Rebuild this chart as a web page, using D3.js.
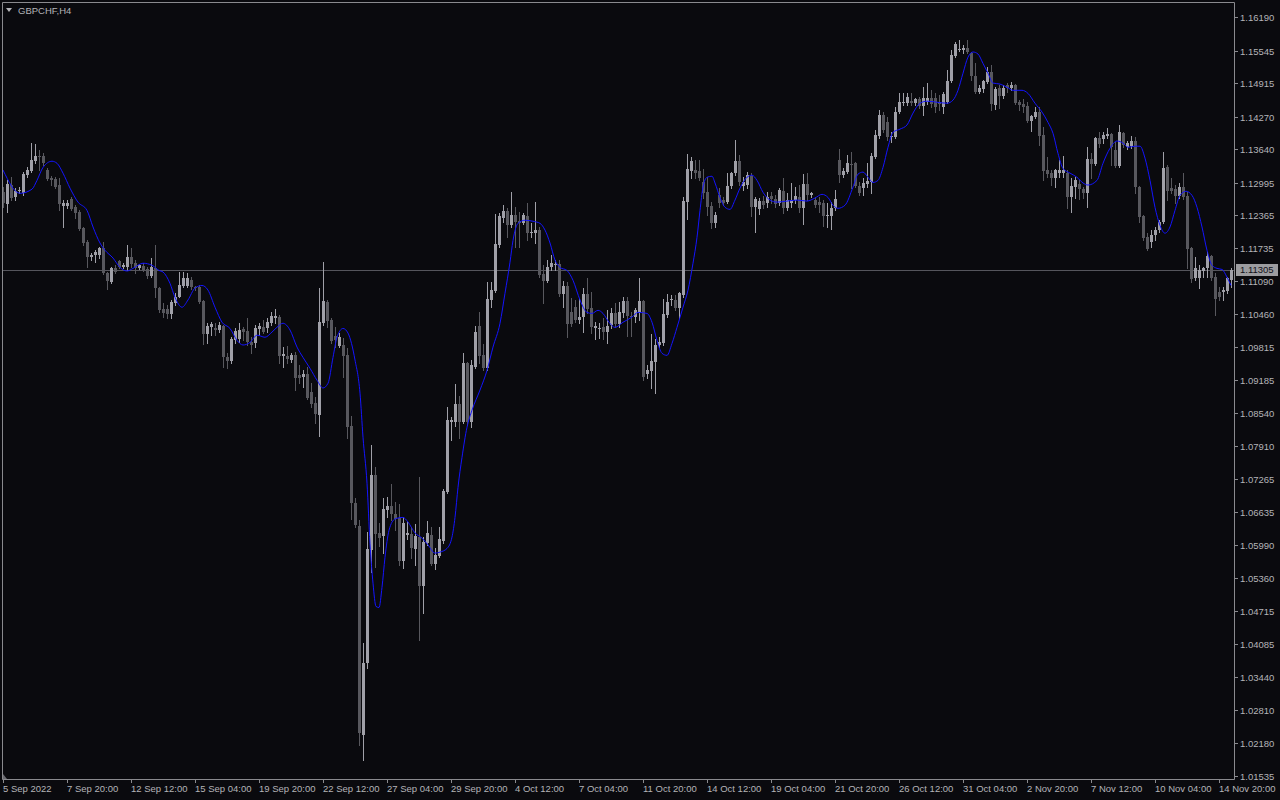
<!DOCTYPE html>
<html><head><meta charset="utf-8">
<script src="https://cdn.jsdelivr.net/npm/d3@7"></script>
<style>html,body{margin:0;padding:0;background:#0a0a0e;overflow:hidden}</style>
</head><body><svg id="c" width="1280" height="800"></svg>
<script>
const symbolTitle = "GBPCHF,H4";
const openP = [
1.1281,1.1258,1.1295,1.1271,1.1283,1.1279,1.1314,1.1322,1.1341,1.1351,
1.1351,1.1324,1.1308,1.1306,1.1295,1.1254,1.1254,1.1268,1.1252,1.1243,
1.1212,1.1185,1.1156,1.1159,1.1159,1.1173,1.1125,1.1107,1.1134,1.1148,
1.1136,1.1136,1.1156,1.1144,1.1134,1.1138,1.1132,1.1119,1.1134,1.1096,
1.1055,1.1055,1.1045,1.1067,1.1078,1.1100,1.1100,1.1111,1.1098,1.1098,
1.1071,1.1007,1.1020,1.1018,1.1015,1.1022,1.0962,1.0955,1.0995,1.0997,
1.1017,1.1013,1.0991,1.0989,1.1017,1.1020,1.1018,1.1028,1.1038,1.1040,
1.0964,1.0964,1.0957,1.0966,1.0928,1.0924,1.0930,1.0895,1.0874,1.0850,
1.1028,1.1069,1.1034,1.1003,1.0984,1.0986,1.0966,1.0829,1.0680,1.0636,
1.0232,1.0371,1.0590,1.0734,1.0623,1.0617,1.0667,1.0675,1.0659,1.0651,
1.0568,1.0619,1.0621,1.0592,1.0615,1.0520,1.0603,1.0619,1.0563,1.0578,
1.0607,1.0702,1.0837,1.0837,1.0872,1.0837,1.0951,1.0837,1.0943,1.1022,
1.0966,1.0941,1.1073,1.1090,1.1179,1.1231,1.1244,1.1217,1.1237,1.1225,
1.1221,1.1235,1.1204,1.1202,1.1208,1.1123,1.1109,1.1136,1.1142,1.1142,
1.1084,1.1100,1.1049,1.1059,1.1034,1.1040,1.1084,1.1057,1.1018,1.1018,
1.1020,1.1011,1.1024,1.1047,1.1026,1.1047,1.1071,1.1042,1.1040,1.1047,
1.1071,1.0930,1.0935,1.0953,1.0986,1.0989,1.1044,1.1073,1.1073,1.1057,
1.1082,1.1262,1.1322,1.1324,1.1322,1.1300,1.1281,1.1254,1.1221,1.1275,
1.1266,1.1262,1.1293,1.1318,1.1341,1.1293,1.1295,1.1312,1.1252,1.1248,
1.1264,1.1260,1.1273,1.1268,1.1260,1.1283,1.1250,1.1260,1.1266,1.1271,
1.1250,1.1297,1.1275,1.1266,1.1262,1.1260,1.1235,1.1235,1.1250,1.1343,
1.1314,1.1320,1.1335,1.1337,1.1293,1.1289,1.1297,1.1300,1.1349,1.1389,
1.1430,1.1416,1.1387,1.1387,1.1436,1.1453,1.1453,1.1457,1.1453,1.1461,
1.1447,1.1455,1.1463,1.1463,1.1455,1.1445,1.1455,1.1496,1.1544,1.1555,
1.1555,1.1559,1.1550,1.1505,1.1474,1.1480,1.1494,1.1513,1.1449,1.1482,
1.1467,1.1488,1.1482,1.1488,1.1455,1.1451,1.1447,1.1418,1.1426,1.1436,
1.1391,1.1324,1.1318,1.1308,1.1318,1.1318,1.1318,1.1271,1.1291,1.1297,
1.1287,1.1279,1.1345,1.1335,1.1385,1.1384,1.1389,1.1393,1.1362,1.1331,
1.1395,1.1368,1.1370,1.1380,1.1291,1.1235,1.1194,1.1185,1.1198,1.1208,
1.1223,1.1329,1.1289,1.1287,1.1273,1.1291,1.1273,1.1173,1.1115,1.1115,
1.1129,1.1134,1.1158,1.1117,1.1088,1.1088,1.1090,1.1111];
const highP = [
1.1291,1.1304,1.1310,1.1289,1.1291,1.1320,1.1329,1.1376,1.1374,1.1362,
1.1356,1.1327,1.1312,1.1310,1.1308,1.1266,1.1266,1.1271,1.1256,1.1246,
1.1214,1.1188,1.1163,1.1169,1.1175,1.1185,1.1127,1.1136,1.1140,1.1150,
1.1144,1.1179,1.1173,1.1150,1.1142,1.1144,1.1136,1.1154,1.1179,1.1098,
1.1067,1.1063,1.1073,1.1086,1.1127,1.1127,1.1125,1.1117,1.1100,1.1101,
1.1073,1.1028,1.1030,1.1028,1.1030,1.1024,1.0970,1.1001,1.1018,1.1028,
1.1020,1.1038,1.1001,1.1024,1.1028,1.1034,1.1038,1.1049,1.1055,1.1044,
1.0982,1.0984,1.0970,1.0972,1.0947,1.0937,1.0943,1.0912,1.0885,1.1096,
1.1146,1.1073,1.1038,1.1020,1.1009,1.0999,1.0980,1.0848,1.0690,1.0648,
1.0410,1.0624,1.0792,1.0750,1.0642,1.0690,1.0692,1.0717,1.0682,1.0678,
1.0653,1.0644,1.0634,1.0640,1.0731,1.0615,1.0646,1.0634,1.0593,1.0634,
1.0707,1.0866,1.0846,1.0910,1.0887,1.0970,1.0953,1.0957,1.1022,1.1049,
1.0988,1.1107,1.1107,1.1239,1.1241,1.1256,1.1250,1.1281,1.1252,1.1243,
1.1241,1.1260,1.1221,1.1262,1.1214,1.1140,1.1150,1.1159,1.1150,1.1150,
1.1109,1.1107,1.1076,1.1073,1.1074,1.1096,1.1115,1.1088,1.1030,1.1028,
1.1038,1.1053,1.1057,1.1067,1.1069,1.1078,1.1078,1.1049,1.1057,1.1115,
1.1073,1.0947,1.1007,1.0997,1.1001,1.1074,1.1084,1.1082,1.1082,1.1088,
1.1271,1.1355,1.1349,1.1343,1.1343,1.1326,1.1310,1.1262,1.1243,1.1289,
1.1271,1.1318,1.1320,1.1382,1.1353,1.1310,1.1320,1.1318,1.1271,1.1270,
1.1273,1.1281,1.1281,1.1275,1.1289,1.1308,1.1279,1.1299,1.1291,1.1295,
1.1316,1.1318,1.1281,1.1271,1.1271,1.1266,1.1260,1.1262,1.1285,1.1364,
1.1327,1.1353,1.1358,1.1339,1.1300,1.1308,1.1337,1.1356,1.1401,1.1440,
1.1436,1.1426,1.1397,1.1445,1.1472,1.1472,1.1472,1.1472,1.1463,1.1465,
1.1484,1.1492,1.1478,1.1472,1.1468,1.1474,1.1517,1.1555,1.1571,1.1575,
1.1565,1.1575,1.1552,1.1530,1.1488,1.1497,1.1523,1.1526,1.1484,1.1488,
1.1488,1.1492,1.1494,1.1490,1.1459,1.1461,1.1455,1.1430,1.1445,1.1445,
1.1407,1.1349,1.1324,1.1326,1.1343,1.1351,1.1324,1.1308,1.1310,1.1304,
1.1291,1.1368,1.1356,1.1387,1.1397,1.1397,1.1405,1.1395,1.1378,1.1411,
1.1397,1.1380,1.1389,1.1387,1.1293,1.1237,1.1202,1.1208,1.1214,1.1227,
1.1358,1.1333,1.1308,1.1295,1.1299,1.1318,1.1281,1.1175,1.1156,1.1140,
1.1136,1.1165,1.1159,1.1125,1.1098,1.1098,1.1117,1.1134];
const lowP = [
1.1252,1.1243,1.1266,1.1266,1.1279,1.1275,1.1310,1.1320,1.1337,1.1324,
1.1333,1.1304,1.1295,1.1289,1.1246,1.1214,1.1250,1.1246,1.1231,1.1208,
1.1179,1.1136,1.1150,1.1146,1.1154,1.1123,1.1094,1.1105,1.1125,1.1134,
1.1134,1.1130,1.1136,1.1125,1.1132,1.1129,1.1115,1.1117,1.1078,1.1049,
1.1040,1.1038,1.1038,1.1063,1.1078,1.1098,1.1098,1.1094,1.1092,1.1067,
1.0988,1.0989,1.1005,1.1005,1.1011,1.0943,1.0941,1.0951,1.0989,1.0991,
1.0995,1.0986,1.0970,1.0982,1.1005,1.1009,1.1011,1.1024,1.1028,1.0951,
1.0943,1.0951,1.0953,1.0899,1.0912,1.0905,1.0881,1.0866,1.0835,1.0810,
1.1024,1.1020,1.0989,1.0982,1.0982,1.0924,1.0806,1.0650,1.0634,1.0213,
1.0184,1.0362,1.0547,1.0557,1.0598,1.0584,1.0653,1.0648,1.0628,1.0561,
1.0555,1.0611,1.0574,1.0561,1.0416,1.0468,1.0600,1.0561,1.0553,1.0576,
1.0603,1.0700,1.0802,1.0829,1.0806,1.0835,1.0831,1.0827,1.0941,1.0951,
1.0937,1.0937,1.1059,1.1088,1.1175,1.1223,1.1194,1.1214,1.1175,1.1175,
1.1219,1.1188,1.1194,1.1183,1.1117,1.1067,1.1107,1.1130,1.1130,1.1080,
1.1059,1.1001,1.1022,1.1030,1.1028,1.1011,1.1047,1.1009,1.0997,1.0999,
1.0997,1.0989,1.1018,1.1020,1.1020,1.1040,1.1003,1.1003,1.1030,1.1034,
1.0918,1.0922,1.0903,1.0893,1.0982,1.0986,1.1040,1.1063,1.1053,1.1038,
1.1078,1.1229,1.1308,1.1308,1.1304,1.1270,1.1237,1.1212,1.1214,1.1252,
1.1256,1.1260,1.1289,1.1314,1.1295,1.1285,1.1289,1.1235,1.1204,1.1239,
1.1250,1.1252,1.1260,1.1252,1.1256,1.1241,1.1246,1.1252,1.1260,1.1243,
1.1219,1.1266,1.1271,1.1252,1.1243,1.1215,1.1214,1.1210,1.1246,1.1300,
1.1310,1.1318,1.1289,1.1291,1.1275,1.1275,1.1291,1.1279,1.1347,1.1385,
1.1397,1.1382,1.1378,1.1385,1.1434,1.1449,1.1449,1.1449,1.1449,1.1443,
1.1430,1.1451,1.1445,1.1436,1.1440,1.1434,1.1453,1.1494,1.1542,1.1553,
1.1550,1.1550,1.1497,1.1472,1.1472,1.1474,1.1492,1.1440,1.1441,1.1443,
1.1463,1.1474,1.1478,1.1451,1.1440,1.1436,1.1416,1.1399,1.1424,1.1372,
1.1304,1.1310,1.1295,1.1291,1.1310,1.1310,1.1250,1.1243,1.1270,1.1268,
1.1270,1.1252,1.1308,1.1333,1.1368,1.1376,1.1385,1.1333,1.1329,1.1329,
1.1368,1.1364,1.1366,1.1279,1.1223,1.1188,1.1169,1.1175,1.1188,1.1204,
1.1221,1.1266,1.1279,1.1260,1.1270,1.1268,1.1134,1.1107,1.1111,1.1096,
1.1117,1.1117,1.1111,1.1044,1.1073,1.1073,1.1086,1.1098];
const closeP = [
1.1260,1.1297,1.1270,1.1283,1.1285,1.1316,1.1324,1.1343,1.1351,1.1350,
1.1337,1.1306,1.1304,1.1291,1.1258,1.1260,1.1260,1.1248,1.1241,1.1210,
1.1183,1.1156,1.1159,1.1165,1.1173,1.1125,1.1109,1.1134,1.1127,1.1136,
1.1140,1.1156,1.1142,1.1134,1.1140,1.1130,1.1119,1.1136,1.1096,1.1053,
1.1047,1.1045,1.1069,1.1078,1.1101,1.1115,1.1115,1.1098,1.1097,1.1069,
1.1007,1.1022,1.1026,1.1015,1.1024,1.0962,1.0955,1.0997,1.1013,1.1015,
1.1011,1.0991,1.0986,1.1018,1.1022,1.1011,1.1030,1.1042,1.1042,1.0964,
1.0968,1.0959,1.0966,1.0922,1.0922,1.0930,1.0883,1.0872,1.0852,1.1030,
1.1071,1.1032,1.0993,1.0995,1.1001,1.0964,1.0827,1.0680,1.0638,1.0236,
1.0371,1.0592,1.0734,1.0621,1.0613,1.0669,1.0675,1.0659,1.0650,1.0568,
1.0642,1.0623,1.0593,1.0617,1.0520,1.0605,1.0623,1.0563,1.0580,1.0611,
1.0704,1.0841,1.0841,1.0872,1.0837,1.0951,1.0837,1.0947,1.1011,1.0964,
1.0941,1.1074,1.1092,1.1181,1.1235,1.1244,1.1217,1.1237,1.1223,1.1221,
1.1237,1.1202,1.1205,1.1208,1.1121,1.1109,1.1136,1.1144,1.1143,1.1084,
1.1100,1.1026,1.1026,1.1034,1.1040,1.1084,1.1055,1.1020,1.1022,1.1019,
1.1011,1.1022,1.1047,1.1026,1.1049,1.1071,1.1042,1.1040,1.1053,1.1071,
1.0924,1.0937,1.0955,1.0986,1.0991,1.1045,1.1069,1.1074,1.1057,1.1086,
1.1264,1.1326,1.1341,1.1318,1.1308,1.1279,1.1252,1.1221,1.1237,1.1260,
1.1260,1.1293,1.1318,1.1341,1.1300,1.1300,1.1314,1.1252,1.1268,1.1264,
1.1256,1.1271,1.1268,1.1258,1.1285,1.1250,1.1266,1.1266,1.1273,1.1250,
1.1297,1.1275,1.1279,1.1256,1.1256,1.1235,1.1237,1.1250,1.1268,1.1314,
1.1322,1.1337,1.1333,1.1293,1.1279,1.1299,1.1302,1.1351,1.1391,1.1430,
1.1401,1.1387,1.1389,1.1436,1.1455,1.1455,1.1465,1.1453,1.1461,1.1447,
1.1463,1.1463,1.1451,1.1445,1.1451,1.1470,1.1496,1.1546,1.1567,1.1557,
1.1559,1.1552,1.1505,1.1474,1.1482,1.1496,1.1513,1.1451,1.1480,1.1467,
1.1482,1.1482,1.1488,1.1453,1.1449,1.1445,1.1418,1.1428,1.1436,1.1389,
1.1322,1.1316,1.1308,1.1324,1.1324,1.1324,1.1271,1.1293,1.1304,1.1287,
1.1279,1.1345,1.1335,1.1385,1.1374,1.1391,1.1393,1.1368,1.1331,1.1397,
1.1372,1.1376,1.1380,1.1291,1.1233,1.1192,1.1171,1.1198,1.1208,1.1223,
1.1327,1.1283,1.1283,1.1273,1.1291,1.1271,1.1171,1.1113,1.1134,1.1130,
1.1134,1.1158,1.1115,1.1074,1.1078,1.1092,1.1115,1.1131];
// smoothed moving average: [bar position, price]
const maPoints = [
[0,1.1324],[4.25,1.1279],[7.25,1.1287],[8.5,1.1304],[10,1.1329],[12.25,1.1341],[13.5,1.1337],[15,1.1318],[16.75,1.1289],[18.75,1.1262],
[21,1.1246],[22.5,1.1214],[24.25,1.1183],[25.5,1.1169],[27.5,1.1154],[29.25,1.1136],[31,1.1129],[32.5,1.1134],[35,1.1144],[37.25,1.1140],
[39,1.1130],[40,1.1127],[41.75,1.1105],[43,1.1078],[44.75,1.1059],[46.25,1.1073],[48,1.1096],[49.75,1.1101],[51.25,1.1092],[53,1.1059],
[54.75,1.1030],[56.75,1.1018],[58.5,1.0995],[60,1.0986],[61.75,1.0991],[63.5,1.1005],[65.5,1.1001],[67.25,1.1011],[68.75,1.1022],[70,1.1028],
[71.75,1.1015],[73.5,1.0982],[75,1.0962],[76.75,1.0941],[78.5,1.0918],[80,1.0903],[81.25,1.0912],[82.5,1.0962],[83.5,1.1001],[85,1.1018],
[86.25,1.1009],[88,1.0957],[89.25,1.0893],[90,1.0808],[91,1.0719],[91.75,1.0603],[92.5,1.0526],[93.25,1.0481],[94,1.0479],[94.75,1.0518],
[95.5,1.0576],[96.5,1.0628],[98,1.0650],[100,1.0653],[101.25,1.0644],[103,1.0623],[104.75,1.0613],[106.25,1.0600],[108,1.0584],[109.25,1.0586],
[111,1.0593],[112.25,1.0615],[113,1.0653],[113.75,1.0711],[114.75,1.0769],[116,1.0827],[117.25,1.0860],[119.25,1.0899],[121,1.0937],[122.5,1.0982],
[124.25,1.1028],[125.5,1.1086],[126.75,1.1146],[127.5,1.1188],[128.75,1.1221],[130.5,1.1227],[132.5,1.1225],[134.25,1.1221],[135.5,1.1208],[136.75,1.1183],
[138,1.1150],[139.25,1.1136],[141,1.1130],[142.5,1.1111],[144.25,1.1073],[146,1.1049],[147.25,1.1047],[148.75,1.1053],[150,1.1047],[151.5,1.1030],
[153,1.1020],[155,1.1030],[157.25,1.1040],[158.75,1.1049],[161,1.1047],[162.25,1.1030],[163.5,1.0995],[164.75,1.0970],[166,1.0966],[167.25,1.0989],
[168.5,1.1020],[170,1.1059],[171.25,1.1092],[172.5,1.1144],[173.5,1.1194],[174.25,1.1246],[175,1.1291],[176,1.1310],[177.25,1.1312],[178,1.1299],
[179.25,1.1271],[180.5,1.1252],[181.75,1.1248],[183,1.1266],[184.25,1.1289],[186,1.1310],[187.25,1.1314],[188.5,1.1304],[190,1.1281],[191.75,1.1266],
[193.5,1.1262],[196,1.1264],[198.5,1.1266],[201,1.1264],[203,1.1270],[204.75,1.1277],[206.25,1.1271],[207.5,1.1256],[208.75,1.1250],[210.5,1.1256],
[212.5,1.1291],[213.75,1.1316],[215,1.1320],[216.25,1.1310],[217.5,1.1300],[218.75,1.1304],[220,1.1329],[221.25,1.1368],[222.5,1.1397],[224.25,1.1403],
[226,1.1411],[227.5,1.1434],[229.25,1.1453],[231,1.1457],[233.5,1.1455],[236,1.1453],[237.5,1.1459],[238.75,1.1478],[240,1.1511],[241.25,1.1542],
[242.5,1.1552],[243.75,1.1548],[245,1.1530],[246.25,1.1511],[247.5,1.1492],[249.25,1.1490],[251,1.1484],[252.5,1.1478],[254.75,1.1478],[256.25,1.1472],
[258,1.1453],[259.75,1.1436],[261.25,1.1416],[262.5,1.1395],[263.75,1.1356],[265,1.1327],[266.75,1.1318],[268.5,1.1310],[270,1.1299],[271.25,1.1295],
[273.5,1.1304],[275,1.1337],[276.75,1.1366],[278.5,1.1380],[280,1.1376],[281.25,1.1368],[283,1.1370],[284.25,1.1370],[285.5,1.1347],[286.75,1.1304],
[288,1.1252],[289.25,1.1217],[290.5,1.1202],[291.75,1.1214],[293,1.1246],[294.25,1.1275],[295.75,1.1283],[297.25,1.1275],[298.5,1.1252],[299.75,1.1214],
[301,1.1169],[302.25,1.1140],[303.5,1.1134],[304.75,1.1132],[306,1.1117],[307,1.1101]];
const priceTicks = [1.16190,1.15545,1.14915,1.14270,1.13640,1.12995,1.12365,1.11735,1.11090,1.10460,1.09815,1.09185,
1.08540,1.07910,1.07265,1.06635,1.05990,1.05360,1.04715,1.04085,1.03440,1.02810,1.02180,1.01535];
const timeLabels = ["5 Sep 2022","7 Sep 20:00","12 Sep 12:00","15 Sep 04:00","19 Sep 20:00","22 Sep 12:00","27 Sep 04:00",
"29 Sep 20:00","4 Oct 12:00","7 Oct 04:00","11 Oct 20:00","14 Oct 12:00","19 Oct 04:00","21 Oct 20:00","26 Oct 12:00",
"31 Oct 04:00","2 Nov 20:00","7 Nov 12:00","10 Nov 04:00","14 Nov 20:00"];
const timeLabelStep = 16; // bars between time labels
const currentPrice = 1.11305;

const C = {bg:"#0a0a0e", frame:"#8a8a8e", text:"#b4b4b8", bull:"#a0a0a8", bear:"#58585e", ma:"#1414ff", bid:"#55555c"};
const font = "'Liberation Sans', Arial, sans-serif";
const FS = 9.5;
const P = {left:2, top:2, right:1234, bottom:779};

const svg = d3.select("#c");
svg.append("rect").attr("width",1280).attr("height",800).attr("fill",C.bg);

const n = openP.length;
const x = d3.scaleLinear().domain([0, n-1]).range([3, 1231]);
const y = d3.scaleLinear().domain([1.01535, 1.16190]).range([776, 17.3]);

svg.append("clipPath").attr("id","clip").append("rect")
  .attr("x",P.left+1).attr("y",P.top+1).attr("width",P.right-P.left-1).attr("height",P.bottom-P.top-1);

// bid line
svg.append("line").attr("x1",P.left).attr("x2",P.right)
  .attr("y1",Math.round(y(currentPrice))+0.5).attr("y2",Math.round(y(currentPrice))+0.5)
  .attr("stroke",C.bid).attr("stroke-width",1);

const g = svg.append("g").attr("clip-path","url(#clip)");
const data = d3.range(n).map(i => ({i, o:openP[i], h:highP[i], l:lowP[i], c:closeP[i]}));
const cg = g.selectAll("g.c").data(data).join("g").attr("class","c");
cg.append("line")
  .attr("x1",d=>Math.round(x(d.i))+0.5).attr("x2",d=>Math.round(x(d.i))+0.5)
  .attr("y1",d=>Math.round(y(d.h))).attr("y2",d=>Math.round(y(d.l))+1)
  .attr("stroke",d=>d.c>=d.o?C.bull:C.bear).attr("stroke-width",1);
cg.append("rect")
  .attr("x",d=>Math.round(x(d.i))-1).attr("width",3)
  .attr("y",d=>Math.round(y(Math.max(d.o,d.c))))
  .attr("height",d=>Math.max(1, Math.round(y(Math.min(d.o,d.c)))-Math.round(y(Math.max(d.o,d.c)))))
  .attr("fill",d=>d.c>=d.o?C.bull:C.bear);

// moving average
const line = d3.line().x(d=>x(d[0])).y(d=>y(d[1])).curve(d3.curveMonotoneX);
g.append("path").attr("d",line(maPoints)).attr("fill","none").attr("stroke",C.ma).attr("stroke-width",1);

// frame
svg.append("path").attr("d",`M${P.left+0.5},${P.bottom+0.5}V${P.top+0.5}H${P.right+0.5}V${P.bottom+0.5}H${P.left+0.5}`)
  .attr("fill","none").attr("stroke",C.frame).attr("stroke-width",1);

// right axis
const ra = svg.append("g").attr("font-family",font).attr("font-size",FS).attr("fill",C.text);
priceTicks.forEach(v=>{
  const yy = Math.round(y(v))+0.5;
  ra.append("line").attr("x1",P.right).attr("x2",P.right+4).attr("y1",yy).attr("y2",yy).attr("stroke",C.frame);
  ra.append("text").attr("x",P.right+6).attr("y",yy).attr("dy","0.35em").text(v.toFixed(5));
});
// current price label
const cy = Math.round(y(currentPrice));
svg.append("rect").attr("x",P.right+2).attr("y",cy-6).attr("width",42).attr("height",12).attr("fill","#9c9ca0");
svg.append("text").attr("x",P.right+6).attr("y",cy).attr("dy","0.35em").attr("font-family",font).attr("font-size",FS)
  .attr("fill","#101018").text(currentPrice.toFixed(5));

// bottom axis
const ba = svg.append("g").attr("font-family",font).attr("font-size",FS).attr("fill",C.text);
timeLabels.forEach((t,k)=>{
  const xx = Math.round(x(k*timeLabelStep))+0.5;
  ba.append("line").attr("x1",xx).attr("x2",xx).attr("y1",P.bottom).attr("y2",P.bottom+4).attr("stroke",C.frame);
  ba.append("text").attr("x",xx-0.5).attr("y",792).text(t);
});
// shift marker
svg.append("path").attr("d",`M${P.left+1},${P.bottom-5}L${P.left+5},${P.bottom}L${P.left+1},${P.bottom}Z`).attr("fill","#6a6a70");

// title
svg.append("path").attr("d","M6,8L12,8L9,12Z").attr("fill",C.text);
svg.append("text").attr("x",18).attr("y",14).attr("font-family",font).attr("font-size",FS).attr("fill",C.text).text(symbolTitle);
</script></body></html>
